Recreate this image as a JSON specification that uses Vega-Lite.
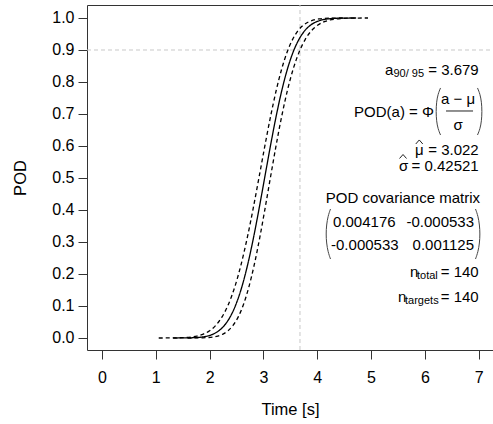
{
  "$schema": "https://vega.github.io/schema/vega-lite/v6.json",
  "width": 406,
  "height": 345,
  "autosize": {"type": "none"},
  "padding": {"left": 87, "top": 5, "right": 0, "bottom": 74},
  "background": "white",
  "config": {
    "view": {"stroke": "#333", "strokeWidth": 1},
    "font": "Liberation Sans",
    "axis": {
      "domain": false, "grid": false, "tickColor": "#333", "tickSize": 9, "tickWidth": 1,
      "labelFont": "Liberation Sans", "labelFontSize": 16, "labelColor": "#000",
      "titleFont": "Liberation Sans", "titleFontSize": 16.5, "titleFontWeight": "normal", "titleColor": "#000"
    },
    "text": {"font": "Liberation Sans", "fontSize": 15, "color": "#000"}
  },
  "datasets": {
    "curves": [
      {"z": -4, "y": 0.0000317, "a": 1.32116, "lo": 1.05368, "hi": 1.58864},
      {"z": -3.75, "y": 0.0000884, "a": 1.42746, "lo": 1.17265, "hi": 1.68227},
      {"z": -3.5, "y": 0.000233, "a": 1.53376, "lo": 1.29150, "hi": 1.77602},
      {"z": -3.25, "y": 0.000577, "a": 1.64007, "lo": 1.41022, "hi": 1.86992},
      {"z": -3, "y": 0.00135, "a": 1.74637, "lo": 1.52877, "hi": 1.96397},
      {"z": -2.75, "y": 0.00298, "a": 1.85267, "lo": 1.64711, "hi": 2.05823},
      {"z": -2.5, "y": 0.00621, "a": 1.95897, "lo": 1.76522, "hi": 2.15272},
      {"z": -2.25, "y": 0.01222, "a": 2.06528, "lo": 1.88306, "hi": 2.24750},
      {"z": -2, "y": 0.02275, "a": 2.17158, "lo": 2.00056, "hi": 2.34260},
      {"z": -1.75, "y": 0.04006, "a": 2.27788, "lo": 2.11766, "hi": 2.43810},
      {"z": -1.5, "y": 0.06681, "a": 2.38418, "lo": 2.23425, "hi": 2.53411},
      {"z": -1.25, "y": 0.10565, "a": 2.49049, "lo": 2.35026, "hi": 2.63072},
      {"z": -1, "y": 0.15866, "a": 2.59679, "lo": 2.46553, "hi": 2.72805},
      {"z": -0.75, "y": 0.22663, "a": 2.70309, "lo": 2.57990, "hi": 2.82628},
      {"z": -0.5, "y": 0.30854, "a": 2.80939, "lo": 2.69318, "hi": 2.92560},
      {"z": -0.25, "y": 0.40129, "a": 2.91570, "lo": 2.80519, "hi": 3.02621},
      {"z": 0, "y": 0.5, "a": 3.022, "lo": 2.91570, "hi": 3.12830},
      {"z": 0.25, "y": 0.59871, "a": 3.12830, "lo": 3.02452, "hi": 3.23208},
      {"z": 0.5, "y": 0.69146, "a": 3.23461, "lo": 3.13156, "hi": 3.33766},
      {"z": 0.75, "y": 0.77337, "a": 3.34091, "lo": 3.23675, "hi": 3.44507},
      {"z": 1, "y": 0.84134, "a": 3.44721, "lo": 3.34016, "hi": 3.55426},
      {"z": 1.25, "y": 0.89435, "a": 3.55351, "lo": 3.44193, "hi": 3.66509},
      {"z": 1.5, "y": 0.93319, "a": 3.65982, "lo": 3.54225, "hi": 3.77739},
      {"z": 1.75, "y": 0.95994, "a": 3.76612, "lo": 3.64132, "hi": 3.89092},
      {"z": 2, "y": 0.97725, "a": 3.87242, "lo": 3.73935, "hi": 4.00549},
      {"z": 2.25, "y": 0.98778, "a": 3.97872, "lo": 3.83651, "hi": 4.12093},
      {"z": 2.5, "y": 0.99379, "a": 4.08503, "lo": 3.93299, "hi": 4.23707},
      {"z": 2.75, "y": 0.99702, "a": 4.19133, "lo": 4.02888, "hi": 4.35378},
      {"z": 3, "y": 0.99865, "a": 4.29763, "lo": 4.12429, "hi": 4.47097},
      {"z": 3.25, "y": 0.99942, "a": 4.40393, "lo": 4.21932, "hi": 4.58854},
      {"z": 3.5, "y": 0.99977, "a": 4.51024, "lo": 4.31403, "hi": 4.70645},
      {"z": 3.75, "y": 0.99991, "a": 4.61654, "lo": 4.40847, "hi": 4.82461},
      {"z": 4, "y": 0.99997, "a": 4.72284, "lo": 4.50268, "hi": 4.94300}
    ],
    "hrule": [{"x": -0.279, "x2": 7.266, "y": 0.9}],
    "vrule": [{"x": 3.679, "y": -0.0375, "y2": 1.0406}],
    "ann_r": [
      {"x": 7.0, "y": 0.8375, "label": "= 3.679"},
      {"x": 6.17, "y": 0.7063, "label": "POD(a) = Φ"},
      {"x": 7.0, "y": 0.5875, "label": "= 3.022"},
      {"x": 7.0, "y": 0.5375, "label": "= 0.42521"},
      {"x": 7.025, "y": 0.4375, "label": "POD covariance matrix"},
      {"x": 6.913, "y": 0.3625, "label": "-0.000533"},
      {"x": 6.913, "y": 0.2906, "label": "0.001125"},
      {"x": 7.0, "y": 0.2063, "label": "= 140"},
      {"x": 7.0, "y": 0.1281, "label": "= 140"}
    ],
    "ann_l": [
      {"x": 5.259, "y": 0.8375, "label": "a"},
      {"x": 5.817, "y": 0.5875, "label": "μ"},
      {"x": 5.519, "y": 0.5375, "label": "σ"},
      {"x": 4.293, "y": 0.3625, "label": "0.004176"},
      {"x": 4.256, "y": 0.2906, "label": "-0.000533"},
      {"x": 5.724, "y": 0.2063, "label": "n"},
      {"x": 5.501, "y": 0.1281, "label": "n"}
    ],
    "ann_c": [
      {"x": 6.616, "y": 0.7469, "label": "a − μ"},
      {"x": 6.616, "y": 0.6656, "label": "σ"}
    ],
    "ann_sub": [
      {"x": 5.417, "y": 0.825, "label": "90/ 95"},
      {"x": 5.854, "y": 0.1938, "label": "total"},
      {"x": 5.631, "y": 0.1156, "label": "targets"}
    ],
    "hats": [
      {"id": "mu", "k": 1, "x": 5.831, "y": 0.6063},
      {"id": "mu", "k": 2, "x": 5.896, "y": 0.6188},
      {"id": "mu", "k": 3, "x": 5.961, "y": 0.6063},
      {"id": "sg", "k": 1, "x": 5.529, "y": 0.5609},
      {"id": "sg", "k": 2, "x": 5.594, "y": 0.5734},
      {"id": "sg", "k": 3, "x": 5.659, "y": 0.5609},
      {"id": "bar", "k": 1, "x": 6.393, "y": 0.7094},
      {"id": "bar", "k": 2, "x": 6.895, "y": 0.7094}
    ],
    "parens": [
      {"id": "f1", "k": 1, "x": 6.291, "y": 0.7813},
      {"id": "f1", "k": 2, "x": 6.244, "y": 0.7625},
      {"id": "f1", "k": 3, "x": 6.216, "y": 0.7375},
      {"id": "f1", "k": 4, "x": 6.207, "y": 0.7078},
      {"id": "f1", "k": 5, "x": 6.216, "y": 0.6781},
      {"id": "f1", "k": 6, "x": 6.244, "y": 0.6531},
      {"id": "f1", "k": 7, "x": 6.291, "y": 0.6344},
      {"id": "f2", "k": 1, "x": 6.978, "y": 0.7813},
      {"id": "f2", "k": 2, "x": 7.025, "y": 0.7625},
      {"id": "f2", "k": 3, "x": 7.053, "y": 0.7375},
      {"id": "f2", "k": 4, "x": 7.062, "y": 0.7078},
      {"id": "f2", "k": 5, "x": 7.053, "y": 0.6781},
      {"id": "f2", "k": 6, "x": 7.025, "y": 0.6531},
      {"id": "f2", "k": 7, "x": 6.978, "y": 0.6344},
      {"id": "m1", "k": 1, "x": 4.246, "y": 0.4031},
      {"id": "m1", "k": 2, "x": 4.200, "y": 0.3813},
      {"id": "m1", "k": 3, "x": 4.172, "y": 0.3531},
      {"id": "m1", "k": 4, "x": 4.163, "y": 0.325},
      {"id": "m1", "k": 5, "x": 4.172, "y": 0.2969},
      {"id": "m1", "k": 6, "x": 4.200, "y": 0.2688},
      {"id": "m1", "k": 7, "x": 4.246, "y": 0.2469},
      {"id": "m2", "k": 1, "x": 6.941, "y": 0.4031},
      {"id": "m2", "k": 2, "x": 6.988, "y": 0.3813},
      {"id": "m2", "k": 3, "x": 7.016, "y": 0.3531},
      {"id": "m2", "k": 4, "x": 7.025, "y": 0.325},
      {"id": "m2", "k": 5, "x": 7.016, "y": 0.2969},
      {"id": "m2", "k": 6, "x": 6.988, "y": 0.2688},
      {"id": "m2", "k": 7, "x": 6.941, "y": 0.2469}
    ]
  },
  "encoding": {
    "x": {
      "field": "x", "type": "quantitative",
      "scale": {"domain": [-0.279, 7.266], "nice": false, "zero": false},
      "axis": {"values": [0, 1, 2, 3, 4, 5, 6, 7], "format": "d", "labelPadding": 10, "titlePadding": 16, "labelFlush": false},
      "title": "Time [s]"
    },
    "y": {
      "field": "y", "type": "quantitative",
      "scale": {"domain": [-0.0375, 1.0406], "nice": false, "zero": false},
      "axis": {"values": [0, 0.1, 0.2, 0.3, 0.4, 0.5, 0.6, 0.7, 0.8, 0.9, 1.0], "format": ".1f", "labelPadding": 4, "titlePadding": 23, "labelFlush": false},
      "title": "POD"
    }
  },
  "layer": [
    {
      "data": {"name": "hrule"},
      "mark": {"type": "rule", "color": "#c8c8c8", "strokeDash": [4, 3], "strokeWidth": 1},
      "encoding": {"x2": {"field": "x2"}}
    },
    {
      "data": {"name": "vrule"},
      "mark": {"type": "rule", "color": "#c8c8c8", "strokeDash": [4, 3], "strokeWidth": 1},
      "encoding": {"y2": {"field": "y2"}}
    },
    {
      "data": {"name": "curves"},
      "transform": [{"fold": ["a", "lo", "hi"], "as": ["series", "x"]}],
      "mark": {"type": "line", "color": "#000", "strokeWidth": 1.3, "interpolate": "monotone"},
      "encoding": {
        "strokeDash": {"field": "series", "type": "nominal", "scale": {"domain": ["a", "lo", "hi"], "range": [[1, 0], [4, 3], [4, 3]]}, "legend": null},
        "order": {"field": "z", "type": "quantitative"}
      }
    },
    {
      "data": {"name": "parens"},
      "mark": {"type": "line", "color": "#444", "strokeWidth": 1, "interpolate": "basis"},
      "encoding": {
        "detail": {"field": "id", "type": "nominal"},
        "order": {"field": "k", "type": "quantitative"}
      }
    },
    {
      "data": {"name": "hats"},
      "mark": {"type": "line", "color": "#222", "strokeWidth": 1},
      "encoding": {
        "detail": {"field": "id", "type": "nominal"},
        "order": {"field": "k", "type": "quantitative"}
      }
    },
    {
      "data": {"name": "ann_r"},
      "mark": {"type": "text", "align": "right", "baseline": "middle"},
      "encoding": {"text": {"field": "label"}}
    },
    {
      "data": {"name": "ann_l"},
      "mark": {"type": "text", "align": "left", "baseline": "middle"},
      "encoding": {"text": {"field": "label"}}
    },
    {
      "data": {"name": "ann_c"},
      "mark": {"type": "text", "align": "center", "baseline": "middle"},
      "encoding": {"text": {"field": "label"}}
    },
    {
      "data": {"name": "ann_sub"},
      "mark": {"type": "text", "align": "left", "baseline": "middle", "fontSize": 11},
      "encoding": {"text": {"field": "label"}}
    }
  ]
}
